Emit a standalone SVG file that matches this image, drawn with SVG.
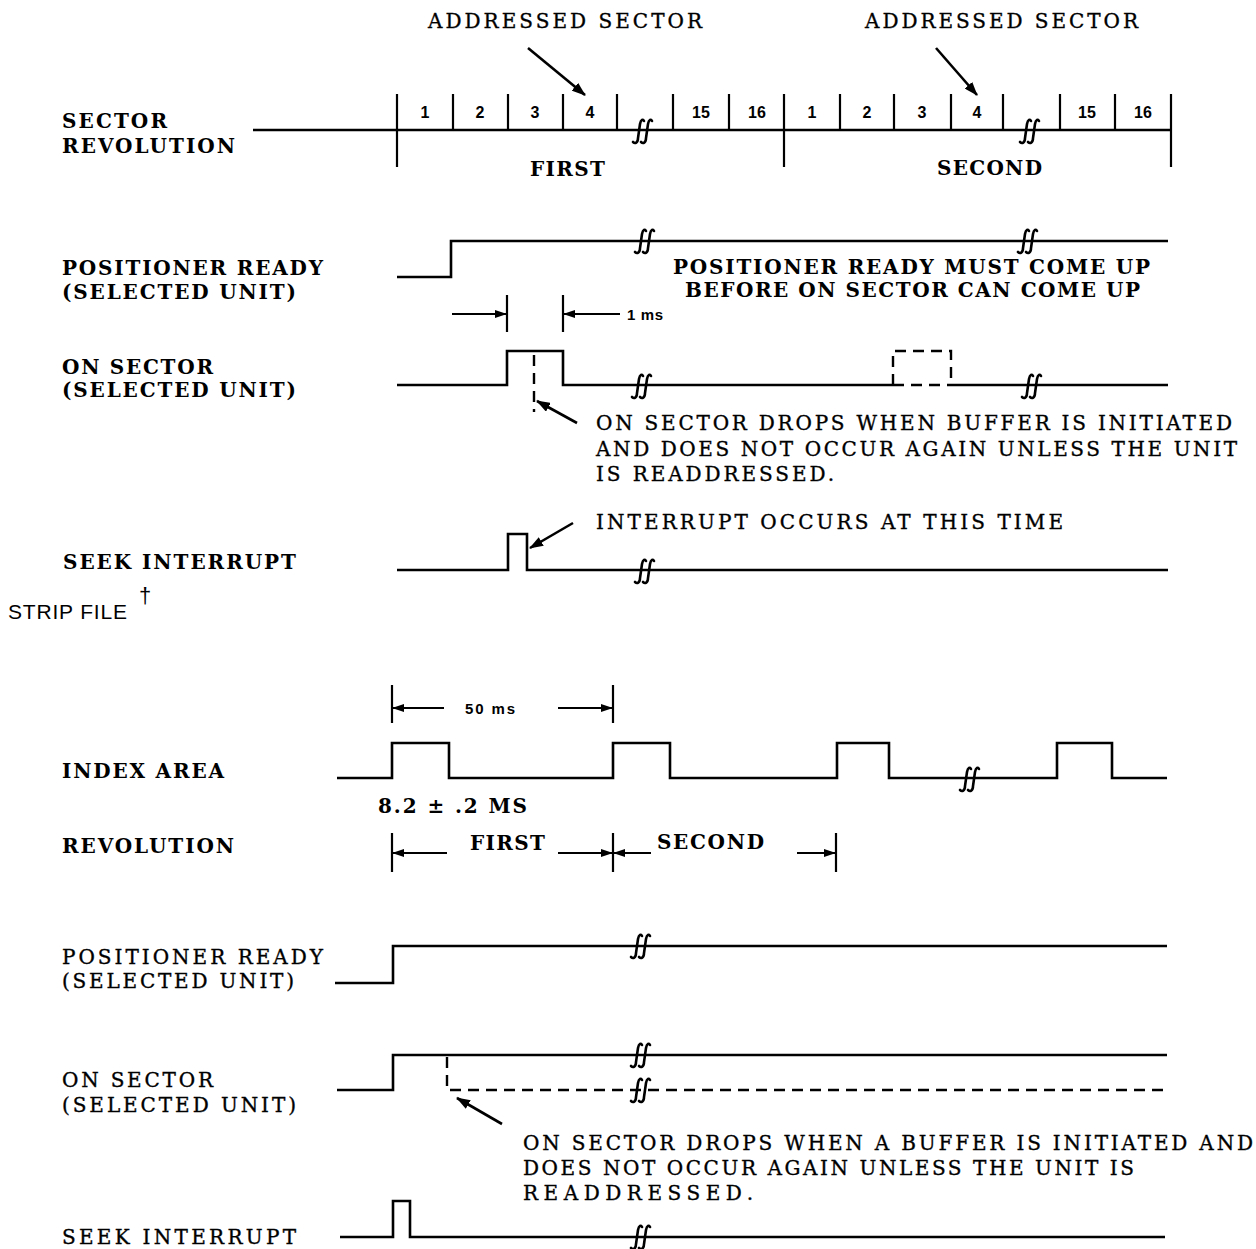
<svg xmlns="http://www.w3.org/2000/svg" xmlns:xlink="http://www.w3.org/1999/xlink" width="1256" height="1249" viewBox="0 0 1256 1249">
<style>
.t{font-family:"DejaVu Serif","Liberation Serif",serif;font-size:20px;font-weight:bold;fill:#000}
.c{font-family:"DejaVu Serif","Liberation Serif",serif;font-size:20px;fill:#000;stroke:#000;stroke-width:0.35}
.s{font-family:"Liberation Sans",Arial,sans-serif;fill:#000}
.n{font-family:"Liberation Sans",Arial,sans-serif;font-weight:bold;font-size:16px;text-anchor:middle;fill:#000}
.w{fill:none;stroke:#000;stroke-width:2.6;stroke-linejoin:miter}
.d{fill:none;stroke:#000;stroke-width:2.4;stroke-dasharray:11 7}
.k{fill:none;stroke:#000;stroke-width:2.2}
.a{fill:none;stroke:#000;stroke-width:1.8;marker-end:url(#ah)}
.a2{fill:none;stroke:#000;stroke-width:2.6;marker-end:url(#ah2)}
.b{fill:none;stroke:#000;stroke-width:2.6;stroke-linecap:round}
</style>
<defs>
<marker id="ah" viewBox="0 0 12 8" refX="11" refY="4" markerWidth="12" markerHeight="8" orient="auto" markerUnits="userSpaceOnUse"><path d="M0,0 L12,4 L0,8 z" fill="#000"/></marker>
<marker id="ah2" viewBox="0 0 14 10" refX="13" refY="5" markerWidth="14" markerHeight="10" orient="auto" markerUnits="userSpaceOnUse"><path d="M0,0 L14,5 L0,10 z" fill="#000"/></marker>
<g id="brk">
<path class="b" d="M-10,11 C-8,13 -5,12 -5,7 L-3,-7 C-2,-12 0,-12 1,-10"/>
<path class="b" d="M-2,11 C0,13 3,12 3,7 L5,-7 C6,-12 8,-12 9,-10"/>
</g>
</defs>
<rect width="1256" height="1249" fill="#fff"/>

<g id="sector-revolution">
<text class="t" x="62" y="128" textLength="105">SECTOR</text>
<text class="t" x="62" y="153" textLength="173">REVOLUTION</text>
<path class="w" d="M253,130 H1171"/>
<path class="k" d="M397,94 V167 M784,94 V167 M1171,94 V167 M453,94 V130 M508,94 V130 M563,94 V130 M617,94 V130 M673,94 V130 M729,94 V130 M840,94 V130 M894,94 V130 M951,94 V130 M1003,94 V130 M1060,94 V130 M1115,94 V130"/>
<text class="n" x="425" y="118">1</text>
<text class="n" x="480" y="118">2</text>
<text class="n" x="535" y="118">3</text>
<text class="n" x="590" y="118">4</text>
<text class="n" x="701" y="118">15</text>
<text class="n" x="757" y="118">16</text>
<text class="n" x="812" y="118">1</text>
<text class="n" x="867" y="118">2</text>
<text class="n" x="922" y="118">3</text>
<text class="n" x="977" y="118">4</text>
<text class="n" x="1087" y="118">15</text>
<text class="n" x="1143" y="118">16</text>
<use xlink:href="#brk" x="643" y="131"/>
<use xlink:href="#brk" x="1030" y="131"/>
<text class="t" x="530" y="176" textLength="75">FIRST</text>
<text class="t" x="937" y="175" textLength="105">SECOND</text>
<text class="c" x="428" y="28" textLength="274">ADDRESSED SECTOR</text>
<text class="c" x="865" y="28" textLength="273">ADDRESSED SECTOR</text>
</g>

<g id="positioner-ready-1">
<text class="t" x="62" y="275" textLength="261">POSITIONER READY</text>
<text class="t" x="62" y="299" textLength="234">(SELECTED UNIT)</text>
<path class="w" d="M397,277 H451 V241 H1168"/>
<use xlink:href="#brk" x="645" y="241"/>
<use xlink:href="#brk" x="1028" y="241"/>
<text class="t" x="673" y="274" textLength="477">POSITIONER READY MUST COME UP</text>
<text class="t" x="685" y="297" textLength="455">BEFORE ON SECTOR CAN COME UP</text>
</g>

<g id="on-sector-1">
<text class="t" x="62" y="374" textLength="151">ON SECTOR</text>
<text class="t" x="62" y="397" textLength="234">(SELECTED UNIT)</text>
<path class="k" d="M507,295 V332 M563,295 V332"/>
<text class="s" x="627" y="320" font-size="15" font-weight="bold" textLength="36">1 ms</text>
<path class="w" d="M397,385 H507 V351 H563 V385 H893 M951,385 H1168"/>
<path class="d" d="M893,385 V351 H951 V385"/>
<path class="d" d="M893,385 H951"/>
<path class="d" d="M534,355 V412" stroke-dasharray="9 6"/>
<use xlink:href="#brk" x="642" y="386"/>
<use xlink:href="#brk" x="1032" y="386"/>
<text class="c" x="596" y="430" textLength="636">ON SECTOR DROPS WHEN BUFFER IS INITIATED</text>
<text class="c" x="596" y="456" textLength="641">AND DOES NOT OCCUR AGAIN UNLESS THE UNIT</text>
<text class="c" x="596" y="481" textLength="238">IS READDRESSED.</text>
</g>

<g id="seek-interrupt-1">
<text class="t" x="63" y="569" textLength="233">SEEK INTERRUPT</text>
<path class="w" d="M397,570 H508 V534 H527 V570 H1168"/>
<use xlink:href="#brk" x="645" y="571"/>
<text class="c" x="596" y="529" textLength="467">INTERRUPT OCCURS AT THIS TIME</text>
</g>

<g id="strip-file">
<text class="s" x="8" y="619" font-size="21" textLength="119">STRIP FILE</text>
<text class="s" x="139" y="603" font-size="22">†</text>
</g>

<g id="index-area">
<text class="t" x="62" y="778" textLength="162">INDEX AREA</text>
<path class="k" d="M392,685 V723 M613,685 V723"/>
<text class="s" x="465" y="714" font-size="15" font-weight="bold" textLength="50">50 ms</text>
<path class="w" d="M337,778 H392 V743 H449 V778 H613 V743 H670 V778 H837 V743 H889 V778 H1057 V743 H1112 V778 H1167"/>
<use xlink:href="#brk" x="970" y="779"/>
<text class="t" x="378" y="813" textLength="149">8.2 ± .2 MS</text>
</g>

<g id="revolution">
<text class="t" x="62" y="853" textLength="172">REVOLUTION</text>
<path class="k" d="M392,833 V872 M613,833 V872 M836,833 V872"/>
<text class="t" x="470" y="850" textLength="75">FIRST</text>
<text class="t" x="657" y="849" textLength="107">SECOND</text>
</g>

<g id="positioner-ready-2">
<text class="c" x="62" y="964" textLength="261">POSITIONER READY</text>
<text class="c" x="62" y="988" textLength="232">(SELECTED UNIT)</text>
<path class="w" d="M335,983 H393 V946 H1167"/>
<use xlink:href="#brk" x="641" y="946"/>
</g>

<g id="on-sector-2">
<text class="c" x="62" y="1087" textLength="151">ON SECTOR</text>
<text class="c" x="62" y="1112" textLength="234">(SELECTED UNIT)</text>
<path class="w" d="M337,1090 H393 V1055 H1167"/>
<path class="d" d="M447,1057 V1090 H1167"/>
<use xlink:href="#brk" x="641" y="1055"/>
<use xlink:href="#brk" x="641" y="1090"/>
<text class="c" x="523" y="1150" textLength="730">ON SECTOR DROPS WHEN A BUFFER IS INITIATED AND</text>
<text class="c" x="523" y="1175" textLength="611">DOES NOT OCCUR AGAIN UNLESS THE UNIT IS</text>
<text class="c" x="523" y="1200" textLength="230">READDRESSED.</text>
</g>

<g id="seek-interrupt-2">
<text class="c" x="62" y="1244" textLength="234">SEEK INTERRUPT</text>
<path class="w" d="M340,1237 H393 V1201 H410 V1237 H1165"/>
<use xlink:href="#brk" x="641" y="1237"/>
</g>

<g id="connectors">
<path class="a2" d="M528,48 L585,95"/>
<path class="a2" d="M936,48 L977,95"/>
<path class="a" d="M452,314 H506"/>
<path class="a" d="M620,314 H564"/>
<path class="a2" d="M577,423 L537,401"/>
<path class="a2" d="M573,523 L530,548"/>
<path class="a" d="M444,708 H393"/>
<path class="a" d="M558,708 H612"/>
<path class="a" d="M447,853 H393"/>
<path class="a" d="M558,853 H612"/>
<path class="a" d="M651,853 H614"/>
<path class="a" d="M797,853 H835"/>
<path class="a2" d="M502,1124 L457,1098"/>
</g>
</svg>
